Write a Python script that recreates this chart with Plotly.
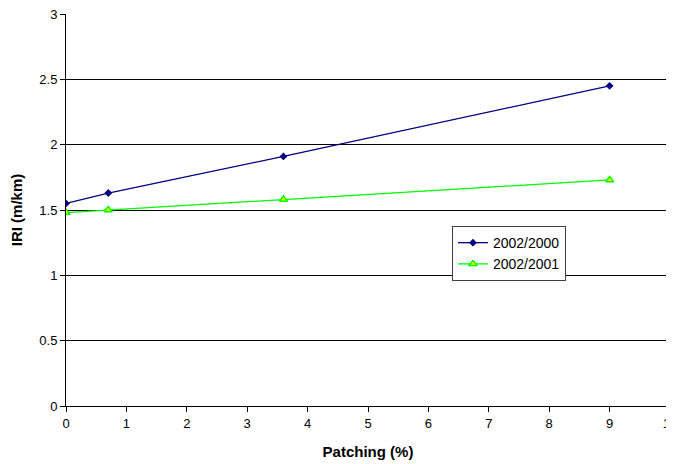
import plotly.graph_objects as go

patching = [0, 0.7, 3.6, 9]
iri_2002_2000 = [1.55, 1.63, 1.91, 2.45]
iri_2002_2001 = [1.48, 1.50, 1.58, 1.73]

fig = go.Figure()
fig.add_trace(go.Scatter(
    x=patching, y=iri_2002_2000, mode="lines+markers", name="2002/2000",
    line=dict(color="#000080", width=1.3),
    marker=dict(symbol="diamond", size=6, color="#000080"),
))
fig.add_trace(go.Scatter(
    x=patching, y=iri_2002_2001, mode="lines+markers", name="2002/2001",
    line=dict(color="#00FF00", width=1.3),
    marker=dict(symbol="triangle-up", size=7, color="#FFFF00",
                line=dict(color="#00FF00", width=1.5)),
))

fig.add_shape(type="line", xref="paper", yref="paper", x0=1, x1=1, y0=0, y1=1,
              line=dict(color="#A0A0A0", width=1.5))

# page body has an 8px margin, so the figure is sized/offset accordingly
fig.update_layout(
    width=666, height=456,
    margin=dict(l=58, r=4, t=6, b=58),
    paper_bgcolor="white", plot_bgcolor="white",
    font=dict(family="Liberation Sans, Arial, sans-serif", size=13, color="black"),
    showlegend=True,
    legend=dict(x=0.639, y=0.459, xanchor="left", yanchor="top",
                bordercolor="#404040", borderwidth=1, bgcolor="white",
                font=dict(size=14), tracegroupgap=0, itemwidth=30),
    xaxis=dict(
        range=[0, 10], dtick=1, tick0=0, showgrid=False, zeroline=False,
        showline=True, linecolor="black", linewidth=1,
        ticks="outside", ticklen=5, tickcolor="black",
        ticklabeloverflow="allow", automargin=False,
        title=dict(text="<b>Patching (%)</b>", font=dict(size=15), standoff=16),
    ),
    yaxis=dict(
        range=[0, 3], dtick=0.5, tick0=0, showgrid=True, gridcolor="black",
        gridwidth=1, zeroline=False,
        showline=True, linecolor="black", linewidth=1,
        ticks="outside", ticklen=5, tickcolor="black",
        ticklabeloverflow="allow", automargin=False,
        title=dict(text="<b>IRI (m/km)</b>", font=dict(size=15), standoff=14),
    ),
)

fig.write_html("out.html")
